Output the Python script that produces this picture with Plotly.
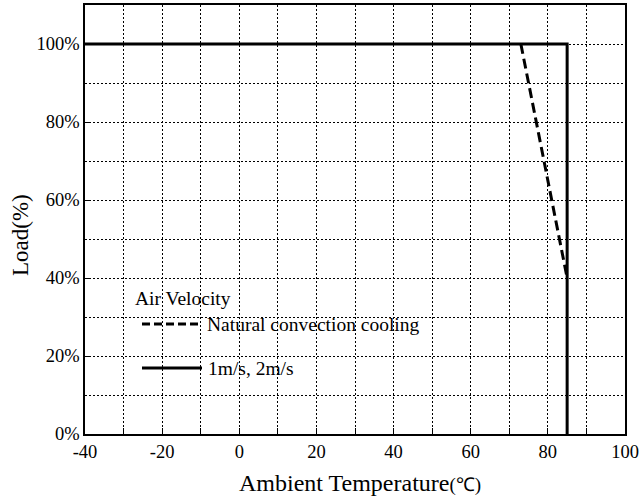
import plotly.graph_objects as go

# ---- data ----
forced_x = [-40, 85, 85]          # 1m/s, 2m/s
forced_y = [100, 100, 0]
natural_x = [73, 85]              # Natural convection cooling
natural_y = [100, 40]
x_ticks = [-40, -20, 0, 20, 40, 60, 80, 100]
x_tick_text = ["-40", "-20", "0", "20", "40", "60", "80", "100"]
y_ticks = [0, 20, 40, 60, 80, 100]
y_tick_text = ["0%", "20%", "40%", "60%", "80%", "100%"]

W, H = 639, 497
L, R, T, B = 85, 625, 5, 434
FONT = "Liberation Serif"


def px(x):
    return (x - L) / (R - L)


def py(y):
    return (B - y) / (B - T)


fig = go.Figure()
fig.add_trace(go.Scatter(x=forced_x, y=forced_y, mode="lines",
                         line=dict(color="black", width=3), showlegend=False,
                         name="1m/s, 2m/s"))
fig.add_trace(go.Scatter(x=natural_x, y=natural_y, mode="lines",
                         line=dict(color="black", width=3, dash="10px,5px"),
                         showlegend=False, name="Natural convection cooling"))

grid = dict(showgrid=True, gridcolor="black", gridwidth=1, griddash="2px,2px")
fig.update_xaxes(range=[-40, 100], tickvals=x_ticks, ticktext=x_tick_text,
                 ticks="inside", ticklen=6, automargin=False, ticklabeloverflow="allow",
                 tickcolor="black", showline=True, linecolor="black", linewidth=1.5,
                 mirror=True, zeroline=False,
                 tickfont=dict(family=FONT, size=18.5, color="black"),
                 minor=dict(dtick=10, tick0=0, ticks="inside", ticklen=6,
                            tickcolor="black", **grid),
                 **grid)
fig.update_yaxes(range=[0, 110], tickvals=y_ticks, ticktext=y_tick_text,
                 ticks="inside", ticklen=6, tickcolor="black", automargin=False,
                 ticklabeloverflow="allow",
                 showline=True, linecolor="black", linewidth=1.5, mirror=True,
                 zeroline=False,
                 tickfont=dict(family=FONT, size=18.5, color="black"),
                 minor=dict(dtick=10, tick0=0, ticks="", **grid),
                 **grid)

# white areas behind the in-plot legend (between grid and traces)
for (x0, y0, x1, y1) in [(125, 287, 235, 308), (125, 308, 430, 340),
                         (125, 340, 200, 378), (200, 340, 297, 397)]:
    fig.add_shape(type="rect", xref="paper", yref="paper",
                  x0=px(x0), x1=px(x1), y0=py(y1), y1=py(y0),
                  fillcolor="white", line=dict(width=0), layer="between")

# legend samples
fig.add_shape(type="line", xref="paper", yref="paper", x0=px(142), x1=px(198),
              y0=py(324), y1=py(324), line=dict(color="black", width=3, dash="8px,4px"))
fig.add_shape(type="line", xref="paper", yref="paper", x0=px(142), x1=px(202),
              y0=py(368), y1=py(368), line=dict(color="black", width=3))

ann_font = dict(family=FONT, size=19.5, color="black")
for text, x, y in [("Air Velocity", 133, 298),
                   ("Natural convection cooling", 205, 324),
                   ("1m/s, 2m/s", 206, 368)]:
    fig.add_annotation(text=text, xref="paper", yref="paper", x=px(x), y=py(y),
                       xanchor="left", yanchor="middle", showarrow=False, font=ann_font)

# axis titles
fig.add_annotation(text='Ambient Temperature<span style="font-size:19px">(℃)</span>',
                   xref="paper", yref="paper", x=px(360), y=py(483),
                   xanchor="center", yanchor="middle", showarrow=False,
                   font=dict(family=FONT, size=24, color="black"))
fig.add_annotation(text="Load(%)", xref="paper", yref="paper", x=px(20), y=py(235),
                   xanchor="center", yanchor="middle", textangle=-90, showarrow=False,
                   font=dict(family=FONT, size=23, color="black"))

fig.update_layout(width=W, height=H, plot_bgcolor="white", paper_bgcolor="white",
                  margin=dict(l=L, r=W - R, t=T, b=H - B, pad=0, autoexpand=False),
                  font=dict(family=FONT, color="black"))

fig.write_html("out.html", config={"displayModeBar": False},
               post_script="document.body.style.margin='0';document.body.style.padding='0';")
